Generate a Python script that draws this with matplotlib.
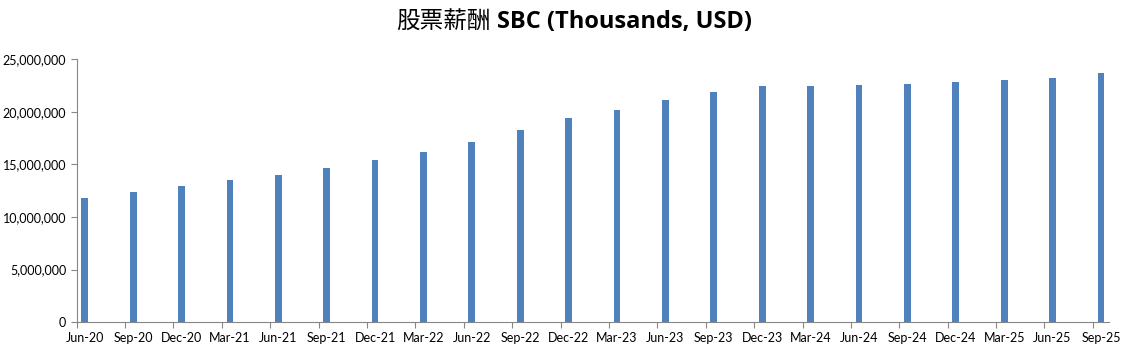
import matplotlib.pyplot as plt
from matplotlib.ticker import FuncFormatter, FixedLocator

# Dane wykresu (tys. USD)
kwartaly = ["Jun-20", "Sep-20", "Dec-20", "Mar-21", "Jun-21", "Sep-21", "Dec-21", "Mar-22",
            "Jun-22", "Sep-22", "Dec-22", "Mar-23", "Jun-23", "Sep-23", "Dec-23", "Mar-24",
            "Jun-24", "Sep-24", "Dec-24", "Mar-25", "Jun-25", "Sep-25"]
sbc = [11820000, 12390000, 12960000, 13530000, 14000000, 14670000, 15430000, 16190000,
       17140000, 18280000, 19420000, 20180000, 21130000, 21890000, 22460000, 22460000,
       22560000, 22650000, 22840000, 23030000, 23220000, 23700000]

W, H = 1129, 357
fig = plt.figure(figsize=(W / 100, H / 100), dpi=100)
ax = fig.add_axes([76.7 / W, 1 - 322.3 / H, (1109 - 76.7) / W, (322.3 - 59) / H])

# os czasu w miesiącach, kwartał = 3 miesiące
x = [i * 3 for i in range(len(kwartaly))]
ax.bar(x, sbc, width=0.42, color="#4f81bd")

ax.set_xlim(-0.5, x[-1] + 0.5)
ax.set_ylim(0, 25000000)

szary = "#868686"
for s in ["top", "right"]:
    ax.spines[s].set_visible(False)
for s in ["left", "bottom"]:
    ax.spines[s].set_color(szary)

ax.set_yticks(range(0, 25000001, 5000000))
ax.yaxis.set_major_formatter(FuncFormatter(lambda v, p: f"{int(v):,}"))
ax.tick_params(axis="y", colors=szary, labelcolor="black", length=4, labelsize=9)

# kreski na granicach kwartałów, etykiety na środku słupka
ax.xaxis.set_major_locator(FixedLocator([v - 0.5 for v in x]))
ax.xaxis.set_major_formatter(FuncFormatter(lambda v, p: ""))
ax.xaxis.set_minor_locator(FixedLocator(x))
ax.set_xticklabels(kwartaly, minor=True)
ax.tick_params(axis="x", which="major", colors=szary, length=4)
ax.tick_params(axis="x", which="minor", length=0, labelsize=9, pad=7)

for lab in ax.get_xticklabels(minor=True) + ax.get_yticklabels():
    lab.set_family(["Lato", "DejaVu Sans"])

# tytuł: część chińska + część łacińska
fig.text(491 / W, 1 - 22 / H, "股票薪酬", ha="right", va="center",
         fontsize=17, family=["Noto Sans CJK TC", "DejaVu Sans"])
fig.text(497 / W, 1 - 22 / H, "SBC (Thousands, USD)", ha="left", va="center",
         fontsize=17, fontweight="bold", family=["Open Sans", "DejaVu Sans"])

fig.savefig("out.png", dpi=100)
